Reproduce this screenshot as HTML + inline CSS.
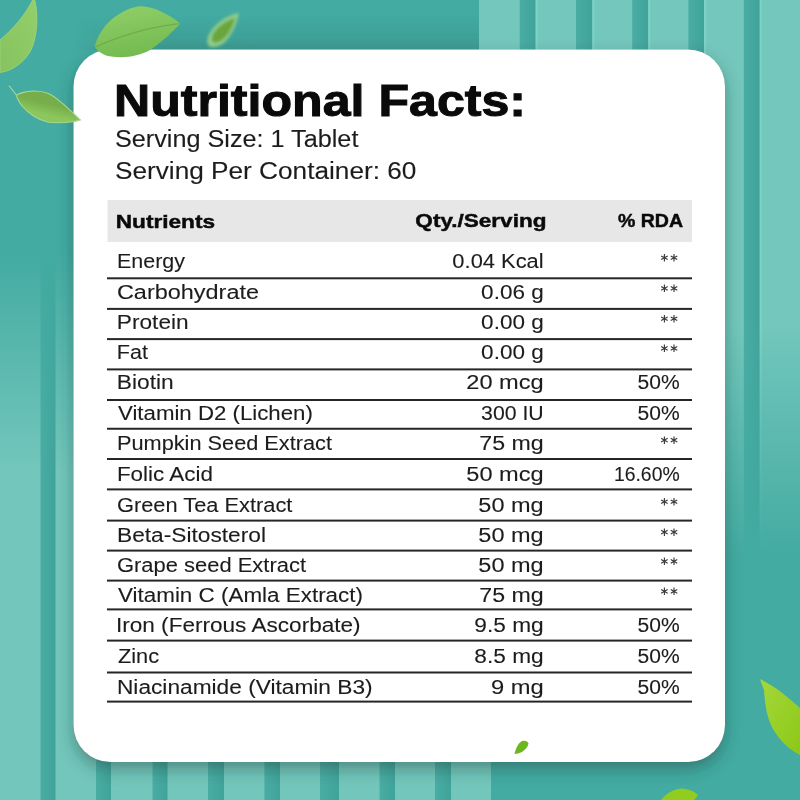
<!DOCTYPE html>
<html><head><meta charset="utf-8"><style>
html,body{margin:0;padding:0;width:800px;height:800px;overflow:hidden;background:#41aaa1}
svg{display:block;will-change:transform}
text{font-family:"Liberation Sans",sans-serif}
</style></head><body>
<svg width="800" height="800" viewBox="0 0 800 800">
<defs>
<linearGradient id="fadeL" x1="0" y1="0" x2="0" y2="800" gradientUnits="userSpaceOnUse">
 <stop offset="0.31" stop-color="#fff" stop-opacity="0"/>
 <stop offset="0.59" stop-color="#fff" stop-opacity="1"/>
</linearGradient>
<linearGradient id="fadeR" x1="0" y1="0" x2="0" y2="800" gradientUnits="userSpaceOnUse">
 <stop offset="0.40" stop-color="#fff" stop-opacity="1"/>
 <stop offset="0.70" stop-color="#fff" stop-opacity="0"/>
</linearGradient>
<linearGradient id="dstripe" x1="0" y1="0" x2="1" y2="0">
 <stop offset="0" stop-color="#4aada4"/>
 <stop offset="1" stop-color="#40a39a"/>
</linearGradient>
<mask id="mL"><rect x="0" y="0" width="800" height="800" fill="url(#fadeL)"/></mask>
<mask id="mR"><rect x="0" y="0" width="800" height="800" fill="url(#fadeR)"/></mask>
<filter id="shadow" x="-10%" y="-10%" width="130%" height="130%">
 <feGaussianBlur in="SourceAlpha" stdDeviation="8"/>
 <feOffset dx="0" dy="7" result="b"/>
 <feFlood flood-color="#1d3c38" flood-opacity="0.42"/>
 <feComposite in2="b" operator="in"/>
</filter>
<filter id="shadow2" x="-10%" y="-10%" width="130%" height="130%">
 <feGaussianBlur in="SourceAlpha" stdDeviation="4"/>
 <feFlood flood-color="#1d3c38" flood-opacity="0.28"/>
 <feComposite operator="in" in2="SourceGraphic"/>
</filter>
<linearGradient id="topdark" x1="0" y1="0" x2="0" y2="1">
 <stop offset="0.3" stop-color="#1a4a45" stop-opacity="0"/>
 <stop offset="1" stop-color="#1a4a45" stop-opacity="0.16"/>
</linearGradient>
<linearGradient id="fadeX" x1="74" y1="0" x2="479" y2="0" gradientUnits="userSpaceOnUse">
 <stop offset="0" stop-color="#fff" stop-opacity="0"/>
 <stop offset="0.12" stop-color="#fff" stop-opacity="1"/>
</linearGradient>
<mask id="mTop"><rect x="0" y="0" width="800" height="60" fill="url(#fadeX)"/></mask>
<filter id="blur1"><feGaussianBlur stdDeviation="1.8"/></filter>
</defs>
<rect x="0" y="0" width="800" height="800" fill="#43aba2"/>
<g mask="url(#mL)"><rect x="0" y="0" width="491" height="800" fill="#73c6bb"/><rect x="40.5" y="0" width="15.0" height="800" fill="url(#dstripe)"/><rect x="96" y="0" width="15.0" height="800" fill="url(#dstripe)"/><rect x="152.5" y="0" width="15.0" height="800" fill="url(#dstripe)"/><rect x="208" y="0" width="16.0" height="800" fill="url(#dstripe)"/><rect x="264.4" y="0" width="15.6" height="800" fill="url(#dstripe)"/><rect x="320" y="0" width="19.0" height="800" fill="url(#dstripe)"/><rect x="379.5" y="0" width="15.5" height="800" fill="url(#dstripe)"/><rect x="435" y="0" width="16.0" height="800" fill="url(#dstripe)"/></g>
<g mask="url(#mR)"><rect x="479" y="0" width="321" height="800" fill="#74c7bc"/><rect x="519.7" y="0" width="15.9" height="800" fill="url(#dstripe)"/><rect x="576" y="0" width="16.3" height="800" fill="url(#dstripe)"/><rect x="632.2" y="0" width="16.0" height="800" fill="url(#dstripe)"/><rect x="688.4" y="0" width="15.6" height="800" fill="url(#dstripe)"/><rect x="743.8" y="0" width="15.9" height="800" fill="url(#dstripe)"/><rect x="535.6" y="0" width="2.2" height="800" fill="#7dd4ca" opacity="0.8"/><rect x="592.3" y="0" width="2.2" height="800" fill="#7dd4ca" opacity="0.8"/><rect x="648.2" y="0" width="2.2" height="800" fill="#7dd4ca" opacity="0.8"/><rect x="704.0" y="0" width="2.2" height="800" fill="#7dd4ca" opacity="0.8"/><rect x="759.7" y="0" width="2.2" height="800" fill="#7dd4ca" opacity="0.8"/></g>
<rect x="74" y="0" width="405" height="50" fill="url(#topdark)" mask="url(#mTop)"/>
<rect x="73.5" y="49.5" width="651.5" height="712.5" rx="37" fill="#000" filter="url(#shadow)"/>
<rect x="73.5" y="49.5" width="651.5" height="712.5" rx="37" fill="#000" filter="url(#shadow2)"/>
<rect x="73.5" y="49.5" width="651.5" height="712.5" rx="37" fill="#ffffff"/>
<rect x="107.5" y="200" width="584.5" height="42" fill="#e7e7e7"/>

<text x="113.95" y="116.25" font-size="44.5" font-weight="700" fill="#0a0a0a" stroke="#0a0a0a" stroke-width="1.0" textLength="412.14" lengthAdjust="spacingAndGlyphs">Nutritional Facts:</text>
<text x="114.99" y="146.90" font-size="23.5" font-weight="400" fill="#1c1c1c" stroke="#1c1c1c" stroke-width="0.1" textLength="243.42" lengthAdjust="spacingAndGlyphs">Serving Size: 1 Tablet</text>
<text x="114.98" y="178.75" font-size="23.5" font-weight="400" fill="#1c1c1c" stroke="#1c1c1c" stroke-width="0.1" textLength="301.44" lengthAdjust="spacingAndGlyphs">Serving Per Container: 60</text>
<text x="115.74" y="227.50" font-size="18.8" font-weight="700" fill="#0a0a0a" stroke="#0a0a0a" stroke-width="0.45" textLength="99.29" lengthAdjust="spacingAndGlyphs">Nutrients</text>
<text x="415.38" y="227.20" font-size="18.8" font-weight="700" fill="#0a0a0a" stroke="#0a0a0a" stroke-width="0.45" textLength="131.06" lengthAdjust="spacingAndGlyphs">Qty./Serving</text>
<text x="617.92" y="226.90" font-size="18.8" font-weight="700" fill="#0a0a0a" stroke="#0a0a0a" stroke-width="0.45" textLength="65.16" lengthAdjust="spacingAndGlyphs">% RDA</text>
<text x="116.92" y="268.00" font-size="19.5" font-weight="400" fill="#1c1c1c" stroke="#1c1c1c" stroke-width="0.1" textLength="68.08" lengthAdjust="spacingAndGlyphs">Energy</text>
<text x="452.38" y="268.00" font-size="19.5" font-weight="400" fill="#1c1c1c" stroke="#1c1c1c" stroke-width="0.1" textLength="91.27" lengthAdjust="spacingAndGlyphs">0.04 Kcal</text>
<path d="M664.40 261.50L664.40 254.00M661.15 259.62L667.65 255.88M667.65 259.62L661.15 255.88" stroke="#3a3a3a" stroke-width="1.15" fill="none"/>
<path d="M674.00 261.50L674.00 254.00M670.75 259.62L677.25 255.88M677.25 259.62L670.75 255.88" stroke="#3a3a3a" stroke-width="1.15" fill="none"/>
<text x="116.95" y="298.60" font-size="19.5" font-weight="400" fill="#1c1c1c" stroke="#1c1c1c" stroke-width="0.1" textLength="142.07" lengthAdjust="spacingAndGlyphs">Carbohydrate</text>
<text x="481.13" y="298.60" font-size="19.5" font-weight="400" fill="#1c1c1c" stroke="#1c1c1c" stroke-width="0.1" textLength="62.57" lengthAdjust="spacingAndGlyphs">0.06 g</text>
<path d="M664.40 292.10L664.40 284.60M661.15 290.23L667.65 286.48M667.65 290.23L661.15 286.48" stroke="#3a3a3a" stroke-width="1.15" fill="none"/>
<path d="M674.00 292.10L674.00 284.60M670.75 290.23L677.25 286.48M677.25 290.23L670.75 286.48" stroke="#3a3a3a" stroke-width="1.15" fill="none"/>
<text x="116.89" y="329.00" font-size="19.5" font-weight="400" fill="#1c1c1c" stroke="#1c1c1c" stroke-width="0.1" textLength="71.78" lengthAdjust="spacingAndGlyphs">Protein</text>
<text x="481.13" y="329.00" font-size="19.5" font-weight="400" fill="#1c1c1c" stroke="#1c1c1c" stroke-width="0.1" textLength="62.57" lengthAdjust="spacingAndGlyphs">0.00 g</text>
<path d="M664.40 322.50L664.40 315.00M661.15 320.62L667.65 316.88M667.65 320.62L661.15 316.88" stroke="#3a3a3a" stroke-width="1.15" fill="none"/>
<path d="M674.00 322.50L674.00 315.00M670.75 320.62L677.25 316.88M677.25 320.62L670.75 316.88" stroke="#3a3a3a" stroke-width="1.15" fill="none"/>
<text x="116.85" y="358.60" font-size="19.5" font-weight="400" fill="#1c1c1c" stroke="#1c1c1c" stroke-width="0.1" textLength="31.22" lengthAdjust="spacingAndGlyphs">Fat</text>
<text x="481.13" y="358.60" font-size="19.5" font-weight="400" fill="#1c1c1c" stroke="#1c1c1c" stroke-width="0.1" textLength="62.57" lengthAdjust="spacingAndGlyphs">0.00 g</text>
<path d="M664.40 352.10L664.40 344.60M661.15 350.23L667.65 346.48M667.65 350.23L661.15 346.48" stroke="#3a3a3a" stroke-width="1.15" fill="none"/>
<path d="M674.00 352.10L674.00 344.60M670.75 350.23L677.25 346.48M677.25 350.23L670.75 346.48" stroke="#3a3a3a" stroke-width="1.15" fill="none"/>
<text x="116.84" y="389.00" font-size="19.5" font-weight="400" fill="#1c1c1c" stroke="#1c1c1c" stroke-width="0.1" textLength="56.91" lengthAdjust="spacingAndGlyphs">Biotin</text>
<text x="466.31" y="389.00" font-size="19.5" font-weight="400" fill="#1c1c1c" stroke="#1c1c1c" stroke-width="0.1" textLength="77.36" lengthAdjust="spacingAndGlyphs">20 mcg</text>
<text x="637.53" y="389.00" font-size="19.5" font-weight="400" fill="#1c1c1c" stroke="#1c1c1c" stroke-width="0.1" textLength="42.16" lengthAdjust="spacingAndGlyphs">50%</text>
<text x="117.98" y="420.00" font-size="19.5" font-weight="400" fill="#1c1c1c" stroke="#1c1c1c" stroke-width="0.1" textLength="194.84" lengthAdjust="spacingAndGlyphs">Vitamin D2 (Lichen)</text>
<text x="481.10" y="420.00" font-size="19.5" font-weight="400" fill="#1c1c1c" stroke="#1c1c1c" stroke-width="0.1" textLength="62.62" lengthAdjust="spacingAndGlyphs">300 IU</text>
<text x="637.53" y="420.00" font-size="19.5" font-weight="400" fill="#1c1c1c" stroke="#1c1c1c" stroke-width="0.1" textLength="42.16" lengthAdjust="spacingAndGlyphs">50%</text>
<text x="116.98" y="450.40" font-size="19.5" font-weight="400" fill="#1c1c1c" stroke="#1c1c1c" stroke-width="0.1" textLength="215.02" lengthAdjust="spacingAndGlyphs">Pumpkin Seed Extract</text>
<text x="479.30" y="450.40" font-size="19.5" font-weight="400" fill="#1c1c1c" stroke="#1c1c1c" stroke-width="0.1" textLength="64.38" lengthAdjust="spacingAndGlyphs">75 mg</text>
<path d="M664.40 443.90L664.40 436.40M661.15 442.02L667.65 438.27M667.65 442.02L661.15 438.27" stroke="#3a3a3a" stroke-width="1.15" fill="none"/>
<path d="M674.00 443.90L674.00 436.40M670.75 442.02L677.25 438.27M677.25 442.02L670.75 438.27" stroke="#3a3a3a" stroke-width="1.15" fill="none"/>
<text x="116.91" y="481.00" font-size="19.5" font-weight="400" fill="#1c1c1c" stroke="#1c1c1c" stroke-width="0.1" textLength="95.97" lengthAdjust="spacingAndGlyphs">Folic Acid</text>
<text x="466.33" y="481.00" font-size="19.5" font-weight="400" fill="#1c1c1c" stroke="#1c1c1c" stroke-width="0.1" textLength="77.32" lengthAdjust="spacingAndGlyphs">50 mcg</text>
<text x="613.91" y="481.00" font-size="19.5" font-weight="400" fill="#1c1c1c" stroke="#1c1c1c" stroke-width="0.1" textLength="65.75" lengthAdjust="spacingAndGlyphs">16.60%</text>
<text x="116.97" y="512.00" font-size="19.5" font-weight="400" fill="#1c1c1c" stroke="#1c1c1c" stroke-width="0.1" textLength="175.45" lengthAdjust="spacingAndGlyphs">Green Tea Extract</text>
<text x="478.33" y="512.00" font-size="19.5" font-weight="400" fill="#1c1c1c" stroke="#1c1c1c" stroke-width="0.1" textLength="65.34" lengthAdjust="spacingAndGlyphs">50 mg</text>
<path d="M664.40 505.50L664.40 498.00M661.15 503.62L667.65 499.88M667.65 503.62L661.15 499.88" stroke="#3a3a3a" stroke-width="1.15" fill="none"/>
<path d="M674.00 505.50L674.00 498.00M670.75 503.62L677.25 499.88M677.25 503.62L670.75 499.88" stroke="#3a3a3a" stroke-width="1.15" fill="none"/>
<text x="116.97" y="542.40" font-size="19.5" font-weight="400" fill="#1c1c1c" stroke="#1c1c1c" stroke-width="0.1" textLength="149.06" lengthAdjust="spacingAndGlyphs">Beta-Sitosterol</text>
<text x="478.33" y="542.40" font-size="19.5" font-weight="400" fill="#1c1c1c" stroke="#1c1c1c" stroke-width="0.1" textLength="65.34" lengthAdjust="spacingAndGlyphs">50 mg</text>
<path d="M664.40 535.90L664.40 528.40M661.15 534.02L667.65 530.27M667.65 534.02L661.15 530.27" stroke="#3a3a3a" stroke-width="1.15" fill="none"/>
<path d="M674.00 535.90L674.00 528.40M670.75 534.02L677.25 530.27M677.25 534.02L670.75 530.27" stroke="#3a3a3a" stroke-width="1.15" fill="none"/>
<text x="116.98" y="571.60" font-size="19.5" font-weight="400" fill="#1c1c1c" stroke="#1c1c1c" stroke-width="0.1" textLength="189.03" lengthAdjust="spacingAndGlyphs">Grape seed Extract</text>
<text x="478.33" y="571.60" font-size="19.5" font-weight="400" fill="#1c1c1c" stroke="#1c1c1c" stroke-width="0.1" textLength="65.34" lengthAdjust="spacingAndGlyphs">50 mg</text>
<path d="M664.40 565.10L664.40 557.60M661.15 563.23L667.65 559.48M667.65 563.23L661.15 559.48" stroke="#3a3a3a" stroke-width="1.15" fill="none"/>
<path d="M674.00 565.10L674.00 557.60M670.75 563.23L677.25 559.48M677.25 563.23L670.75 559.48" stroke="#3a3a3a" stroke-width="1.15" fill="none"/>
<text x="117.99" y="601.60" font-size="19.5" font-weight="400" fill="#1c1c1c" stroke="#1c1c1c" stroke-width="0.1" textLength="245.02" lengthAdjust="spacingAndGlyphs">Vitamin C (Amla Extract)</text>
<text x="479.30" y="601.60" font-size="19.5" font-weight="400" fill="#1c1c1c" stroke="#1c1c1c" stroke-width="0.1" textLength="64.38" lengthAdjust="spacingAndGlyphs">75 mg</text>
<path d="M664.40 595.10L664.40 587.60M661.15 593.23L667.65 589.48M667.65 593.23L661.15 589.48" stroke="#3a3a3a" stroke-width="1.15" fill="none"/>
<path d="M674.00 595.10L674.00 587.60M670.75 593.23L677.25 589.48M677.25 593.23L670.75 589.48" stroke="#3a3a3a" stroke-width="1.15" fill="none"/>
<text x="115.95" y="632.40" font-size="19.5" font-weight="400" fill="#1c1c1c" stroke="#1c1c1c" stroke-width="0.1" textLength="244.69" lengthAdjust="spacingAndGlyphs">Iron (Ferrous Ascorbate)</text>
<text x="474.36" y="632.40" font-size="19.5" font-weight="400" fill="#1c1c1c" stroke="#1c1c1c" stroke-width="0.1" textLength="69.30" lengthAdjust="spacingAndGlyphs">9.5 mg</text>
<text x="637.53" y="632.40" font-size="19.5" font-weight="400" fill="#1c1c1c" stroke="#1c1c1c" stroke-width="0.1" textLength="42.16" lengthAdjust="spacingAndGlyphs">50%</text>
<text x="117.91" y="663.00" font-size="19.5" font-weight="400" fill="#1c1c1c" stroke="#1c1c1c" stroke-width="0.1" textLength="41.16" lengthAdjust="spacingAndGlyphs">Zinc</text>
<text x="474.36" y="663.00" font-size="19.5" font-weight="400" fill="#1c1c1c" stroke="#1c1c1c" stroke-width="0.1" textLength="69.30" lengthAdjust="spacingAndGlyphs">8.5 mg</text>
<text x="637.53" y="663.00" font-size="19.5" font-weight="400" fill="#1c1c1c" stroke="#1c1c1c" stroke-width="0.1" textLength="42.16" lengthAdjust="spacingAndGlyphs">50%</text>
<text x="116.97" y="693.60" font-size="19.5" font-weight="400" fill="#1c1c1c" stroke="#1c1c1c" stroke-width="0.1" textLength="255.66" lengthAdjust="spacingAndGlyphs">Niacinamide (Vitamin B3)</text>
<text x="490.95" y="693.60" font-size="19.5" font-weight="400" fill="#1c1c1c" stroke="#1c1c1c" stroke-width="0.1" textLength="52.77" lengthAdjust="spacingAndGlyphs">9 mg</text>
<text x="637.53" y="693.60" font-size="19.5" font-weight="400" fill="#1c1c1c" stroke="#1c1c1c" stroke-width="0.1" textLength="42.16" lengthAdjust="spacingAndGlyphs">50%</text>
<rect x="107" y="277.30" width="585" height="2" fill="#262626"/>
<rect x="107" y="307.90" width="585" height="2" fill="#262626"/>
<rect x="107" y="338.10" width="585" height="2" fill="#262626"/>
<rect x="107" y="368.40" width="585" height="2" fill="#262626"/>
<rect x="107" y="399.00" width="585" height="2" fill="#262626"/>
<rect x="107" y="427.75" width="585" height="2" fill="#262626"/>
<rect x="107" y="458.00" width="585" height="2" fill="#262626"/>
<rect x="107" y="488.40" width="585" height="2" fill="#262626"/>
<rect x="107" y="519.60" width="585" height="2" fill="#262626"/>
<rect x="107" y="549.60" width="585" height="2" fill="#262626"/>
<rect x="107" y="579.60" width="585" height="2" fill="#262626"/>
<rect x="107" y="608.40" width="585" height="2" fill="#262626"/>
<rect x="107" y="639.60" width="585" height="2" fill="#262626"/>
<rect x="107" y="671.50" width="585" height="2" fill="#262626"/>
<rect x="107" y="700.60" width="585" height="2" fill="#262626"/>
<defs>
<linearGradient id="lg2" x1="0" y1="0" x2="0.3" y2="1">
 <stop offset="0" stop-color="#92d06a"/>
 <stop offset="1" stop-color="#74bb50"/>
</linearGradient>
<linearGradient id="lg6" x1="0" y1="0" x2="1" y2="1">
 <stop offset="0" stop-color="#a4d83a"/>
 <stop offset="1" stop-color="#8cc817"/>
</linearGradient>
<linearGradient id="lg1" x1="1" y1="0" x2="0" y2="1">
 <stop offset="0" stop-color="#93cf6a"/>
 <stop offset="1" stop-color="#86c25e"/>
</linearGradient>
<linearGradient id="lg4" x1="0.2" y1="1" x2="0.7" y2="0">
 <stop offset="0.3" stop-color="#8bc75c"/>
 <stop offset="0.6" stop-color="#77ae4b"/>
</linearGradient>
</defs>
<path d="M34 -3 C 38.5 12, 38 35, 31 50 C 25 62, 12 71, 0 72.5 L 0 40 C 12 30, 26 15, 34 -3 Z" fill="url(#lg1)" stroke="#9fd67c" stroke-width="0.8"/>
<path d="M94.6 46.8 C 97 37, 103 27, 112 19 C 122 11, 133 6.5, 141 6.2 C 154 6.5, 168 14, 180.5 23.4 C 172 32, 163 41, 150 50 C 138 57, 120 59, 106 55.5 C 100 53, 97 50, 94.6 46.8 Z" fill="url(#lg2)"/>
<path d="M95 47 C 118 37, 145 27, 180 23.6" stroke="#68a948" stroke-width="1.1" fill="none" opacity="0.8"/>
<g filter="url(#blur1)"><path d="M239 13 C 237 22, 233 34, 225 42 C 218 48, 209 49, 207.5 43.5 C 206 37, 211 29, 219 22.5 C 226 17, 233 14, 239 13 Z" fill="#98d18a" opacity="0.9"/><path d="M235 18 C 233 25, 230 33, 224 38.5 C 219 43, 213 44, 212 40.5 C 211 36, 215 30, 220 26 C 225 22, 230 19.5, 235 18 Z" fill="#6ba53a"/></g>
<path d="M9 85.7 L 16.3 95" stroke="#9fd3a0" stroke-width="1.2"/>
<path d="M16.3 95.2 C 25 90, 40 90, 48.4 93.6 C 58 98, 70 110, 80.4 120 C 72 122.5, 58 123, 48.4 122.2 C 38 120, 28 113, 22.5 106.5 C 19 102, 17 98, 16.3 95.2 Z" fill="url(#lg4)" stroke="#a6d78c" stroke-width="1.1"/>
<path d="M514.5 754 C 515.5 749, 518 743, 522 741 C 525 740, 528 741.5, 528.5 743.5 C 528 747, 525 750, 522 752 C 519.5 753.3, 516.5 754, 514.5 754 Z" fill="#6cb620"/>
<path d="M760 679.3 C 772 684, 787 696, 800 708 L 800 755 C 790 750, 780 741, 773 729 C 767 718, 765 705, 764 690 Z" fill="url(#lg6)"/>
<path d="M660 801 C 667 792, 676 788.5, 682 788.5 C 689 789, 695 792, 698 795 C 696 798, 694 800, 693 801 Z" fill="#92cc1e"/>

</svg>
</body></html>
